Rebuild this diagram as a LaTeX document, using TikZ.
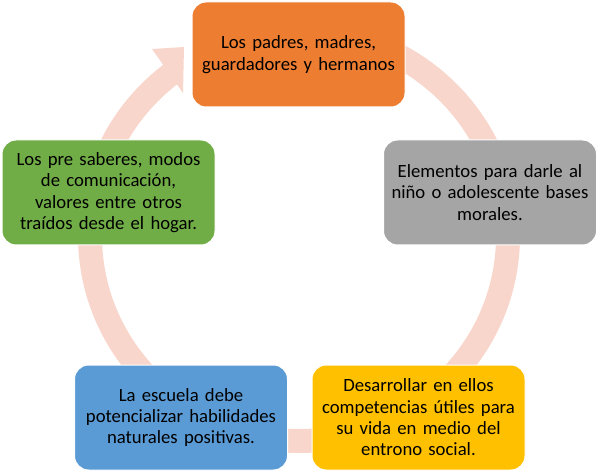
\documentclass[tikz,border=0pt]{standalone}
\usepackage{fontspec}
\setmainfont{Carlito}
\definecolor{ringc}{RGB}{248,214,203}
\definecolor{c_orange}{RGB}{237,125,49}
\definecolor{c_gray}{RGB}{165,165,165}
\definecolor{c_yellow}{RGB}{255,192,0}
\definecolor{c_blue}{RGB}{91,155,213}
\definecolor{c_green}{RGB}{112,173,71}
\begin{document}
\begin{tikzpicture}[x=1pt,y=-1pt,
  cyclebox/.style={rectangle, rounded corners=14pt, minimum width=213pt, minimum height=105pt,
    draw=white, line width=1pt, text width=205pt, align=center, inner sep=0pt,
    font=\fontsize{18.7pt}{21.3pt}\selectfont, text=black}]
\useasboundingbox (0,0) rectangle (600,473);
% background ring
\coordinate (ctr) at (299,236);
\draw[ringc, line width=24pt] (ctr) ++(-90:209 and 205)
  arc[start angle=-90, end angle=232.5, x radius=209, y radius=205];
\fill[ringc] (152,49) -- (184,47) -- (183,93) -- cycle;
% boxes
\node[cyclebox, fill=c_orange] (a) at (298.5,54.5) {Los padres, madres,\\guardadores y hermanos\\[-3pt]};
\node[cyclebox, fill=c_gray] (b) at (490,192.5) {Elementos para darle al\\niño o adolescente bases\\morales.\\[-3pt]};
\node[cyclebox, fill=c_yellow] (c) at (418.5,417.5) {Desarrollar en ellos\\competencias útiles para\\su vida en medio del\\entrono social.\\[-3pt]};
\node[cyclebox, fill=c_blue] (d) at (181,417.5) {La escuela debe\\potencializar habilidades\\naturales positivas.\\[-3pt]};
\node[cyclebox, fill=c_green] (e) at (108.5,192.5) {Los pre saberes, modos\\de comunicación,\\valores entre otros\\traídos desde el hogar.\\[-3pt]};
\end{tikzpicture}
\end{document}
